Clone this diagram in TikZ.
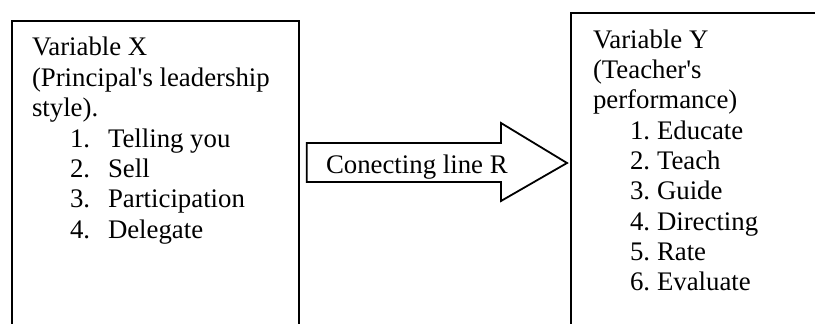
\documentclass[tikz,border=0pt]{standalone}
\usepackage{fontspec}
\setmainfont{Liberation Serif}[Ligatures=TeXOff]
\begin{document}
\begin{tikzpicture}[x=1pt,y=-1pt,
  txt/.style={inner sep=0pt, outer sep=0pt, anchor=base west, font=\fontsize{26.8}{30}\selectfont},
  varbox/.style={draw=black, line width=1.8pt, fill=none, inner sep=0pt, anchor=north west},
  arrowline/.style={draw=black, line width=1.8pt, line join=miter}]
\useasboundingbox (0,0) rectangle (815,324);
\clip (0,0) rectangle (815,324);
% boxes (open at the bottom / right, cut by the page)
\node[varbox, minimum width=287pt, minimum height=340pt] (bx) at (11,20) {};
\node[varbox, minimum width=300pt, minimum height=340pt] (by) at (570,12) {};
% block arrow between the boxes
\coordinate (a0) at ([xshift=7pt]bx.east |- 0,143);
\coordinate (tip) at ([xshift=-3pt]by.west |- 0,163);
\draw[arrowline] (a0) -- (501,143) -- (501,123) -- (tip) -- (501,201) -- (501,182) -- (a0 |- 0,182) -- cycle;
\node[txt] (lbl) at (326,173) {Conecting line R};
% left box text
\node[txt] (x1) at (32,55.7) {Variable X};
\node[txt] (x2) at (32,86) {(Principal's leadership};
\node[txt] (x3) at (32,116.5) {style).};
\node[txt] (xn1) at (70,147) {1.};
\node[txt] (xt1) at (108,147) {Telling you};
\node[txt] (xn2) at (70,177) {2.};
\node[txt] (xt2) at (108,177) {Sell};
\node[txt] (xn3) at (70,207.5) {3.};
\node[txt] (xt3) at (108,207.5) {Participation};
\node[txt] (xn4) at (70,238) {4.};
\node[txt] (xt4) at (108,238) {Delegate};
% right box text
\node[txt] (y1) at (593,48.3) {Variable Y};
\node[txt] (y2) at (593,78.6) {(Teacher's};
\node[txt] (y3) at (593,108.9) {performance)};
\node[txt] (yn1) at (630,139.2) {1.};
\node[txt] (yt1) at (657,139.2) {Educate};
\node[txt] (yn2) at (630,169.5) {2.};
\node[txt] (yt2) at (657,169.5) {Teach};
\node[txt] (yn3) at (630,199.8) {3.};
\node[txt] (yt3) at (657,199.8) {Guide};
\node[txt] (yn4) at (630,230.1) {4.};
\node[txt] (yt4) at (657,230.1) {Directing};
\node[txt] (yn5) at (630,260.4) {5.};
\node[txt] (yt5) at (657,260.4) {Rate};
\node[txt] (yn6) at (630,290.7) {6.};
\node[txt] (yt6) at (657,290.7) {Evaluate};
\end{tikzpicture}
\end{document}
